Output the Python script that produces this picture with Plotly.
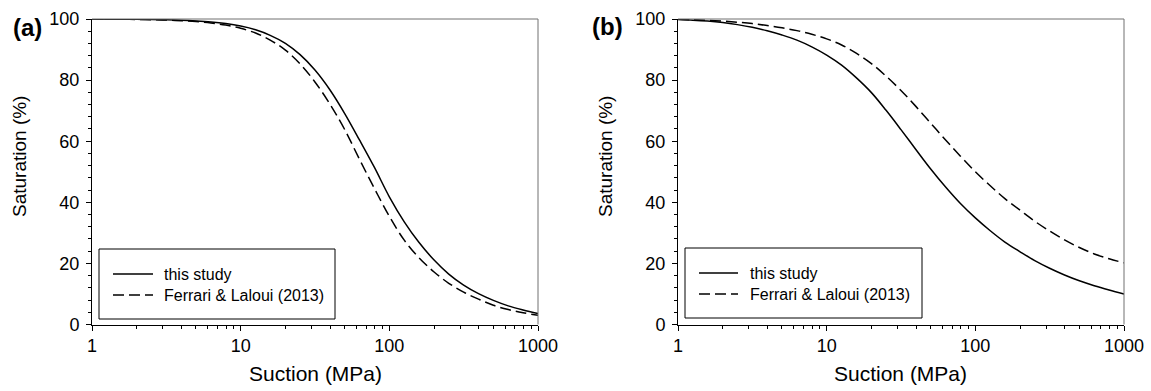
import plotly.graph_objects as go

# ---- data ----
suction = [1, 1.26, 1.58, 2, 2.51, 3.16, 3.98, 5.01, 6.31, 7.94,
           10, 12.6, 15.8, 20, 25.1, 31.6, 39.8, 50.1, 63.1, 79.4,
           100, 126, 158, 200, 251, 316, 398, 501, 631, 794, 1000]

a_this_study = [99.97, 99.95, 99.93, 99.89, 99.83, 99.73, 99.59, 99.36, 99.02, 98.49,
                97.68, 96.47, 94.66, 92.04, 88.33, 83.31, 76.85, 69.06, 60.33, 51.4,
                41.8, 33.6, 26.9, 21.1, 16.5, 12.9, 10.1, 7.9, 6.1, 4.75, 3.6]
a_ferrari = [99.96, 99.94, 99.91, 99.85, 99.77, 99.65, 99.45, 99.16, 98.7, 98.0,
             96.95, 95.4, 93.1, 89.8, 85.3, 79.4, 72.2, 63.8, 54.0, 44.5,
             35.4, 27.6, 21.9, 17.2, 13.5, 10.6, 8.3, 6.3, 4.9, 3.85, 3.0]

b_this_study = [99.8, 99.63, 99.33, 98.84, 98.16, 97.29, 96.13, 94.75, 93.1, 90.9,
                88.2, 84.9, 80.8, 75.9, 70.1, 63.8, 57.3, 50.9, 45.0, 39.6,
                34.9, 30.7, 27.0, 23.8, 20.9, 18.4, 16.2, 14.3, 12.7, 11.3, 10.0]
b_ferrari = [99.9, 99.75, 99.55, 99.3, 98.95, 98.5, 97.85, 97.1, 96.2, 95.0,
             93.5, 91.5, 88.8, 85.4, 81.3, 76.6, 71.4, 65.9, 60.4, 55.1,
             50.0, 45.4, 41.2, 37.4, 33.8, 30.6, 27.7, 25.2, 23.1, 21.5, 20.2]

series_names = ["this study", "Ferrari & Laloui (2013)"]
panel_labels = ["(a)", "(b)"]
x_tickvals = [1, 10, 100, 1000]
x_ticktext = ["1", "10", "100", "1000"]
x_minor = [m * d for d in (1, 10, 100) for m in range(2, 10)]
y_tickvals = [0, 20, 40, 60, 80, 100]
x_title = "Suction (MPa)"
y_title = "Saturation (%)"

# ---- layout geometry (pixels) ----
W, H = 1151, 391
FONT = "Liberation Sans, Arial, sans-serif"
panels = [
    dict(x0=92, x1=538, xa="x", ya="y", data=(a_this_study, a_ferrari),
         leg=(99, 335, 249, 319), samp=(113, 153), txt=162, rows=(274, 295),
         lab=(27.5, 27.5), ytx=19),
    dict(x0=678, x1=1124, xa="x2", ya="y2", data=(b_this_study, b_ferrari),
         leg=(685, 922, 248, 318), samp=(699, 738), txt=748, rows=(273, 294),
         lab=(607, 27), ytx=605),
]
y_top, y_bot = 19, 324.5
DASH = "11px,5px"


def px(x):
    return x / W


def py(y):
    return 1 - y / H


fig = go.Figure()
shapes, annotations = [], []

for i, p in enumerate(panels):
    for j, vals in enumerate(p["data"]):
        fig.add_trace(go.Scatter(
            x=suction, y=vals, mode="lines", name=series_names[j],
            xaxis=p["xa"], yaxis=p["ya"], showlegend=False,
            line=dict(color="black", width=1.5, shape="spline", smoothing=1.0,
                      dash="solid" if j == 0 else DASH),
        ))
    sfx = "" if i == 0 else "2"
    xaxis = dict(
        type="log", range=[0, 3], domain=[px(p["x0"]), px(p["x1"])],
        anchor="y" + sfx, showgrid=False, zeroline=False, automargin=False,
        showline=True, linecolor="black", linewidth=1, mirror=False,
        ticks="outside", ticklen=5, tickwidth=1, tickcolor="black",
        tickmode="array", tickvals=x_tickvals, ticktext=x_ticktext,
        tickfont=dict(family=FONT, size=18, color="black"),
        minor=dict(tickmode="array", tickvals=x_minor, ticks="outside",
                   ticklen=3, tickwidth=1, tickcolor="black", showgrid=False),
    )
    yaxis = dict(
        range=[0, 100], domain=[py(y_bot), py(y_top)], anchor="x" + sfx,
        showgrid=False, zeroline=False, showline=True, linecolor="black",
        automargin=False, ticklabelstandoff=3,
        linewidth=1, ticks="outside", ticklen=5, tickwidth=1, tickcolor="black",
        tickmode="array", tickvals=y_tickvals,
        tickfont=dict(family=FONT, size=18, color="black"),
        minor=dict(dtick=4, ticks="outside", ticklen=3, tickwidth=1,
                   tickcolor="black", showgrid=False),
    )
    fig.update_layout(**{"xaxis" + sfx: xaxis, "yaxis" + sfx: yaxis})

    # top and right frame lines
    shapes.append(dict(type="line", xref="paper", yref="paper",
                       x0=px(p["x0"]), x1=px(p["x1"]), y0=py(y_top), y1=py(y_top),
                       line=dict(color="#707070", width=1)))
    shapes.append(dict(type="line", xref="paper", yref="paper",
                       x0=px(p["x1"]), x1=px(p["x1"]), y0=py(y_top), y1=py(y_bot),
                       line=dict(color="#707070", width=1)))

    # legend box
    lx0, lx1, ly0, ly1 = p["leg"]
    shapes.append(dict(type="rect", xref="paper", yref="paper",
                       x0=px(lx0), x1=px(lx1), y0=py(ly1), y1=py(ly0),
                       line=dict(color="black", width=1), fillcolor="white"))
    for j, name in enumerate(series_names):
        yy = p["rows"][j]
        shapes.append(dict(type="line", xref="paper", yref="paper",
                           x0=px(p["samp"][0]), x1=px(p["samp"][1]),
                           y0=py(yy), y1=py(yy),
                           line=dict(color="black", width=1.5,
                                     dash="solid" if j == 0 else DASH)))
        annotations.append(dict(text=name, xref="paper", yref="paper",
                                x=px(p["txt"]), y=py(yy), xanchor="left",
                                yanchor="middle", showarrow=False,
                                font=dict(family=FONT, size=16, color="black")))

    # axis titles
    annotations.append(dict(text=x_title, xref="paper", yref="paper",
                            x=px((p["x0"] + p["x1"]) / 2), y=py(373),
                            xanchor="center", yanchor="middle", showarrow=False,
                            font=dict(family=FONT, size=21, color="black")))
    annotations.append(dict(text=y_title, xref="paper", yref="paper",
                            x=px(p["ytx"]), y=py(157), textangle=-90,
                            xanchor="center", yanchor="middle", showarrow=False,
                            font=dict(family=FONT, size=19, color="black")))
    # panel label
    annotations.append(dict(text="<b>" + panel_labels[i] + "</b>", xref="paper",
                            yref="paper", x=px(p["lab"][0]), y=py(p["lab"][1]),
                            xanchor="center", yanchor="middle", showarrow=False,
                            font=dict(family=FONT, size=24, color="black")))

fig.update_layout(
    width=W, height=H, margin=dict(l=0, r=0, t=0, b=0, autoexpand=False),
    paper_bgcolor="white", plot_bgcolor="white",
    shapes=shapes, annotations=annotations, showlegend=False,
    font=dict(family=FONT, color="black"),
)

fig.write_html("out.html", include_plotlyjs=True, full_html=True,
               config={"displayModeBar": False})
